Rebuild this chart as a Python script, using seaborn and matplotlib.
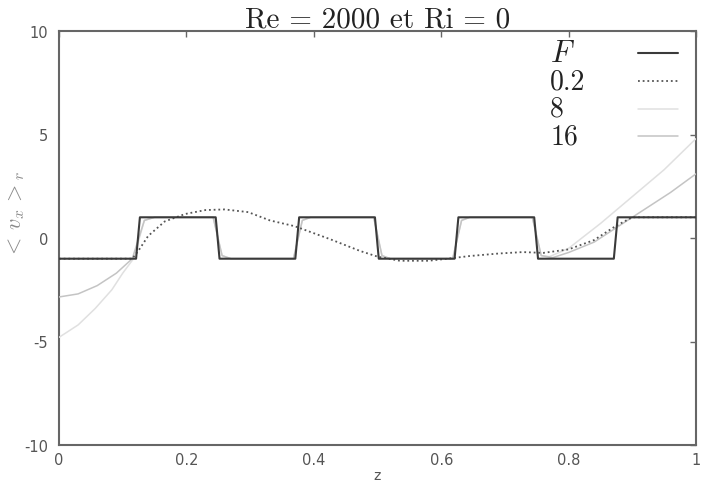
import numpy as np
import pandas as pd
import matplotlib
matplotlib.use("Agg")
import matplotlib.pyplot as plt
import seaborn as sns

# ---- data ----
z_F = [0.0, 0.121, 0.127, 0.246, 0.252, 0.371, 0.377, 0.496, 0.502, 0.621, 0.627, 0.746, 0.752, 0.871, 0.877, 1.0]
v_F = [-1, -1, 1, 1, -1, -1, 1, 1, -1, -1, 1, 1, -1, -1, 1, 1]

z_02 = [0.0, 0.115, 0.125, 0.14, 0.166, 0.198, 0.23, 0.26, 0.297, 0.331, 0.37, 0.425, 0.473, 0.50,
        0.535, 0.58, 0.61, 0.645, 0.69, 0.728, 0.76, 0.80, 0.84, 0.875, 0.90, 0.95, 1.0]
v_02 = [-1.0, -1.0, -0.6, 0.1, 0.8, 1.16, 1.35, 1.38, 1.25, 0.85, 0.57, -0.05, -0.63, -0.9,
        -1.1, -1.1, -1.0, -0.87, -0.75, -0.68, -0.72, -0.55, -0.1, 0.6, 1.0, 1.0, 1.0]

z_8 = [0.0, 0.03, 0.057, 0.083, 0.10, 0.117, 0.134, 0.15, 0.242, 0.256, 0.27, 0.368, 0.382, 0.395, 0.494,
       0.507, 0.52, 0.618, 0.632, 0.645, 0.743, 0.757, 0.77, 0.80, 0.85, 0.90, 0.95, 1.0]
v_8 = [-4.8, -4.2, -3.4, -2.5, -1.7, -1.0, 0.85, 1.0, 1.0, -0.85, -1.0, -1.0, 0.85, 1.0, 1.0,
       -0.85, -1.0, -1.0, 0.85, 1.0, 1.0, -0.85, -0.9, -0.5, 0.7, 2.0, 3.3, 4.8]

z_16 = [0.0, 0.03, 0.06, 0.09, 0.115, 0.134, 0.15, 0.242, 0.256, 0.27, 0.368, 0.382, 0.395, 0.494,
        0.507, 0.52, 0.618, 0.632, 0.645, 0.743, 0.757, 0.775, 0.80, 0.84, 0.88, 0.92, 0.96, 1.0]
v_16 = [-2.85, -2.7, -2.3, -1.7, -1.0, 0.85, 1.0, 1.0, -0.85, -1.0, -1.0, 0.85, 1.0, 1.0,
        -0.85, -1.0, -1.0, 0.85, 1.0, 1.0, -0.85, -0.95, -0.7, -0.2, 0.6, 1.4, 2.2, 3.1]

labels = ["$F$", "0.2", "8", "16"]
x_ticks = [0, 0.2, 0.4, 0.6, 0.8, 1]
x_ticklabels = ["0", "0.2", "0.4", "0.6", "0.8", "1"]
y_ticks = [-10, -5, 0, 5, 10]
y_ticklabels = ["-10", "-5", "0", "5", "10"]

sns.set_style("white")
plt.rcParams["mathtext.fontset"] = "cm"
plt.rcParams["font.family"] = ["DejaVu Sans"]

fig = plt.figure(figsize=(7.08, 4.85), dpi=100)
ax = fig.add_axes([59 / 708, 39 / 485, 637 / 708, 414 / 485])

styles = [
    dict(color="#3a3a3a", lw=1.5, ls="-"),
    dict(color="#555555", lw=1.3, ls=(0, (1, 1.6))),
    dict(color="#e0e0e0", lw=1.1, ls="-"),
    dict(color="#c4c4c4", lw=1.1, ls="-"),
]
series = [(z_F, v_F), (z_02, v_02), (z_8, v_8), (z_16, v_16)]
# draw lighter ones first so F sits on top
order = [2, 3, 1, 0]
for k, i in enumerate(order):
    zz, vv = series[i]
    df = pd.DataFrame({"z": zz, "v": vv})
    sns.lineplot(data=df, x="z", y="v", ax=ax, sort=False, estimator=None,
                 zorder=3 + k, **styles[i])

ax.set_xlim(0, 1)
ax.set_ylim(-10, 10)
ax.set_xticks(x_ticks)
ax.set_xticklabels(x_ticklabels)
ax.set_yticks(y_ticks)
ax.set_yticklabels(y_ticklabels)
ax.tick_params(direction="in", length=4, width=1.0, color="#666666",
               top=True, right=True, labelsize=10.5, labelcolor="#555555")
ax.tick_params(axis="y", pad=8)
ax.tick_params(axis="x", pad=5)
for s in ax.spines.values():
    s.set_color("#666666")
    s.set_linewidth(1.5)
    s.set_visible(True)

ax.set_xlabel("z", fontsize=10, color="#555555", labelpad=1)
ax.set_ylabel(r"$<\,v_x\,>_r$", fontsize=16, color="#8a8a8a")
ax.yaxis.set_label_coords(-0.05, 0.56)
ax.set_title("Re = 2000 et Ri = 0", fontsize=21, family="cmr10", color="#222222", pad=3)

# gnuplot-style key: labels left-aligned, line samples to the right
row_y = [0.947, 0.879, 0.812, 0.746]
for j, (lab, y) in enumerate(zip(labels, row_y)):
    fs = 22 if lab == "$F$" else 20
    ax.text(0.771, y, lab, transform=ax.transAxes, fontsize=fs, family="cmr10",
            va="center", ha="left", color="#222222")
    ax.plot([0.909, 0.972], [y, y], transform=ax.transAxes, **styles[j])

fig.savefig("out.png", dpi=100)
